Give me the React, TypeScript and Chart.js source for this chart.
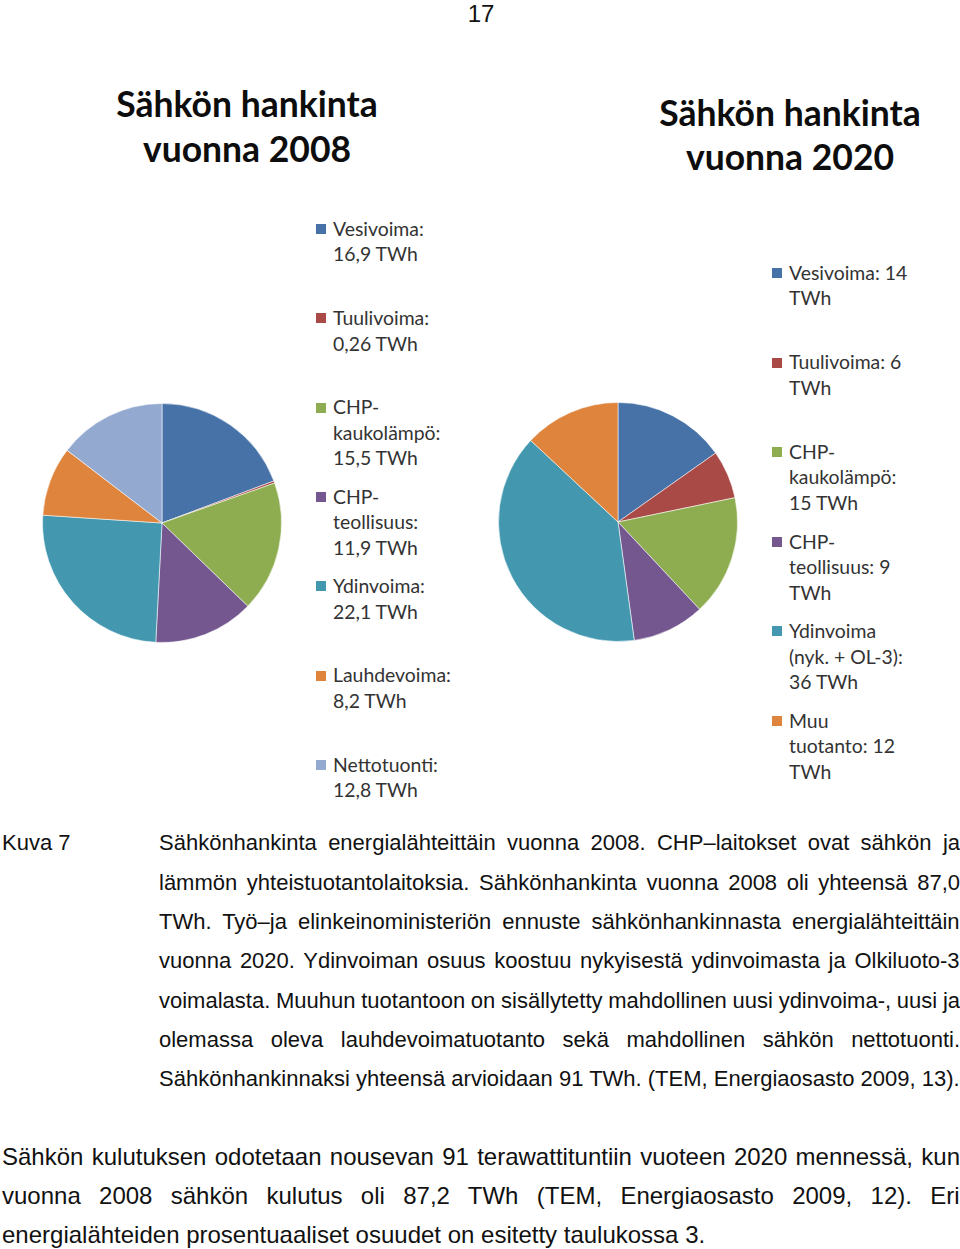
import React, { useEffect, useRef } from "react";
import { Chart, registerables } from "chart.js";
Chart.register(...registerables);

// ---------- data ----------
const sources2008 = ["Vesivoima", "Tuulivoima", "CHP-kaukolämpö", "CHP-teollisuus", "Ydinvoima", "Lauhdevoima", "Nettotuonti"];
const values2008 = [16.9, 0.26, 15.5, 11.9, 22.1, 8.2, 12.8];
const legend2008 = [
  ["Vesivoima:", "16,9 TWh"],
  ["Tuulivoima:", "0,26 TWh"],
  ["CHP-", "kaukolämpö:", "15,5 TWh"],
  ["CHP-", "teollisuus:", "11,9 TWh"],
  ["Ydinvoima:", "22,1 TWh"],
  ["Lauhdevoima:", "8,2 TWh"],
  ["Nettotuonti:", "12,8 TWh"],
];
const sources2020 = ["Vesivoima", "Tuulivoima", "CHP-kaukolämpö", "CHP-teollisuus", "Ydinvoima (nyk. + OL-3)", "Muu tuotanto"];
const values2020 = [14, 6, 15, 9, 36, 12];
const legend2020 = [
  ["Vesivoima: 14", "TWh"],
  ["Tuulivoima: 6", "TWh"],
  ["CHP-", "kaukolämpö:", "15 TWh"],
  ["CHP-", "teollisuus: 9", "TWh"],
  ["Ydinvoima", "(nyk. + OL-3):", "36 TWh"],
  ["Muu", "tuotanto: 12", "TWh"],
];
const sliceColors = ["#4672A8", "#AA4A47", "#8DAD50", "#73578E", "#4398B0", "#DE843D", "#94A9D0"];

const titleLines2008 = ["Sähkön hankinta", "vuonna 2008"];
const titleLines2020 = ["Sähkön hankinta", "vuonna 2020"];

const captionLabel = "Kuva 7";
const captionLines = [
  "Sähkönhankinta energialähteittäin vuonna 2008. CHP–laitokset ovat sähkön ja",
  "lämmön yhteistuotantolaitoksia. Sähkönhankinta vuonna 2008 oli yhteensä 87,0",
  "TWh. Työ–ja elinkeinoministeriön ennuste sähkönhankinnasta energialähteittäin",
  "vuonna 2020. Ydinvoiman osuus koostuu nykyisestä ydinvoimasta ja Olkiluoto-3",
  "voimalasta. Muuhun tuotantoon on sisällytetty mahdollinen uusi ydinvoima-, uusi ja",
  "olemassa oleva lauhdevoimatuotanto sekä mahdollinen sähkön nettotuonti.",
  "Sähkönhankinnaksi yhteensä arvioidaan 91 TWh. (TEM, Energiaosasto 2009, 13).",
];
const bodyLines = [
  "Sähkön kulutuksen odotetaan nousevan 91 terawattituntiin vuoteen 2020 mennessä, kun",
  "vuonna 2008 sähkön kulutus oli 87,2 TWh (TEM, Energiaosasto 2009, 12). Eri",
  "energialähteiden prosentuaaliset osuudet on esitetty taulukossa 3.",
];
const pageNumber = "17";

// ---------- helpers ----------
const ARIAL = '"Liberation Sans", Arial, sans-serif';
const LATO = 'Lato, "Open Sans", sans-serif';
const K: Record<string, number> = { arial: 0.8465, lato: 0.887 };

let measureCtx: CanvasRenderingContext2D | null = null;
function measure(text: string, font: string) {
  if (!measureCtx) measureCtx = document.createElement("canvas").getContext("2d");
  measureCtx!.font = font;
  return measureCtx!.measureText(text).width;
}

function TextLine(props: {
  x: number; baseline: number; size: number; fam: "arial" | "lato"; weight?: number;
  color?: string; text: string; center?: boolean; justifyWidth?: number;
}) {
  const { x, baseline, size, fam, weight = 400, color = "#111", text, center, justifyWidth } = props;
  const family = fam === "arial" ? ARIAL : LATO;
  let wordSpacing = 0;
  if (justifyWidth) {
    const w = measure(text, `${weight} ${size}px ${family}`);
    const spaces = (text.match(/ /g) || []).length;
    if (spaces > 0) wordSpacing = (justifyWidth - w) / spaces;
  }
  const style: React.CSSProperties = {
    position: "absolute",
    top: baseline - K[fam] * size,
    left: center ? x - 400 : x,
    width: center ? 800 : undefined,
    textAlign: center ? "center" : "left",
    fontFamily: family,
    fontSize: size,
    fontWeight: weight,
    lineHeight: `${size}px`,
    color,
    whiteSpace: "pre",
    wordSpacing: wordSpacing ? `${wordSpacing}px` : undefined,
  };
  return <div style={style}>{text}</div>;
}

function Pie(props: { labels: string[]; values: number[]; left: number; top: number; size: number }) {
  const ref = useRef<HTMLCanvasElement>(null);
  const { labels, values, left, top, size } = props;
  useEffect(() => {
    if (!ref.current) return;
    const chart = new Chart(ref.current, {
      type: "pie",
      data: {
        labels,
        datasets: [
          {
            data: values,
            backgroundColor: sliceColors.slice(0, values.length),
            borderColor: "rgba(255,255,255,0.55)",
            borderWidth: 1,
          },
        ],
      },
      options: {
        responsive: false,
        animation: false,
        layout: { padding: 0 },
        plugins: { legend: { display: false }, tooltip: { enabled: false }, title: { display: false } },
      },
    });
    return () => chart.destroy();
  }, []);
  return (
    <canvas
      ref={ref}
      width={size}
      height={size}
      style={{ position: "absolute", left, top, width: size, height: size }}
    />
  );
}

function Legend(props: { items: string[][]; sqLeft: number; textLeft: number; firstBaseline: number; step: number; lineStep: number }) {
  const { items, sqLeft, textLeft, firstBaseline, step, lineStep } = props;
  const out: React.ReactNode[] = [];
  items.forEach((lines, i) => {
    const b0 = firstBaseline + i * step;
    out.push(
      <div
        key={`sq${i}`}
        style={{ position: "absolute", left: sqLeft, top: b0 - 12, width: 10, height: 10, background: sliceColors[i] }}
      />
    );
    lines.forEach((ln, j) => {
      out.push(
        <TextLine key={`t${i}_${j}`} x={textLeft} baseline={b0 + j * lineStep} size={19.4} fam="lato" color="#333" text={ln} />
      );
    });
  });
  return <>{out}</>;
}

export default function App() {
  return (
    <div style={{ position: "absolute", left: 0, top: 0, width: 960, height: 1249, background: "#fff", overflow: "hidden" }}>
      <TextLine x={481} baseline={22} size={24} fam="arial" text={pageNumber} center />

      {titleLines2008.map((t, i) => (
        <TextLine key={`a${i}`} x={247} baseline={117 + i * 45} size={35.5} fam="lato" weight={700} color="#0d0d0d" text={t} center />
      ))}
      {titleLines2020.map((t, i) => (
        <TextLine key={`b${i}`} x={790} baseline={126 + i * 44.5} size={35.5} fam="lato" weight={700} color="#0d0d0d" text={t} center />
      ))}

      <Pie labels={sources2008} values={values2008} left={42} top={403} size={240} />
      <Pie labels={sources2020} values={values2020} left={498} top={402} size={240} />

      <Legend items={legend2008} sqLeft={316} textLeft={333} firstBaseline={236} step={89.33} lineStep={25.5} />
      <Legend items={legend2020} sqLeft={772} textLeft={789} firstBaseline={280} step={89.6} lineStep={25.5} />

      <TextLine x={2} baseline={851} size={22} fam="arial" text={captionLabel} />
      {captionLines.map((t, i) => (
        <TextLine
          key={`c${i}`}
          x={159}
          baseline={851 + i * 39.33}
          size={22}
          fam="arial"
          text={t}
          justifyWidth={i < captionLines.length - 1 ? 801 : undefined}
        />
      ))}
      {bodyLines.map((t, i) => (
        <TextLine
          key={`d${i}`}
          x={2}
          baseline={1165 + i * 39}
          size={24}
          fam="arial"
          text={t}
          justifyWidth={i < bodyLines.length - 1 ? 958 : undefined}
        />
      ))}
    </div>
  );
}
